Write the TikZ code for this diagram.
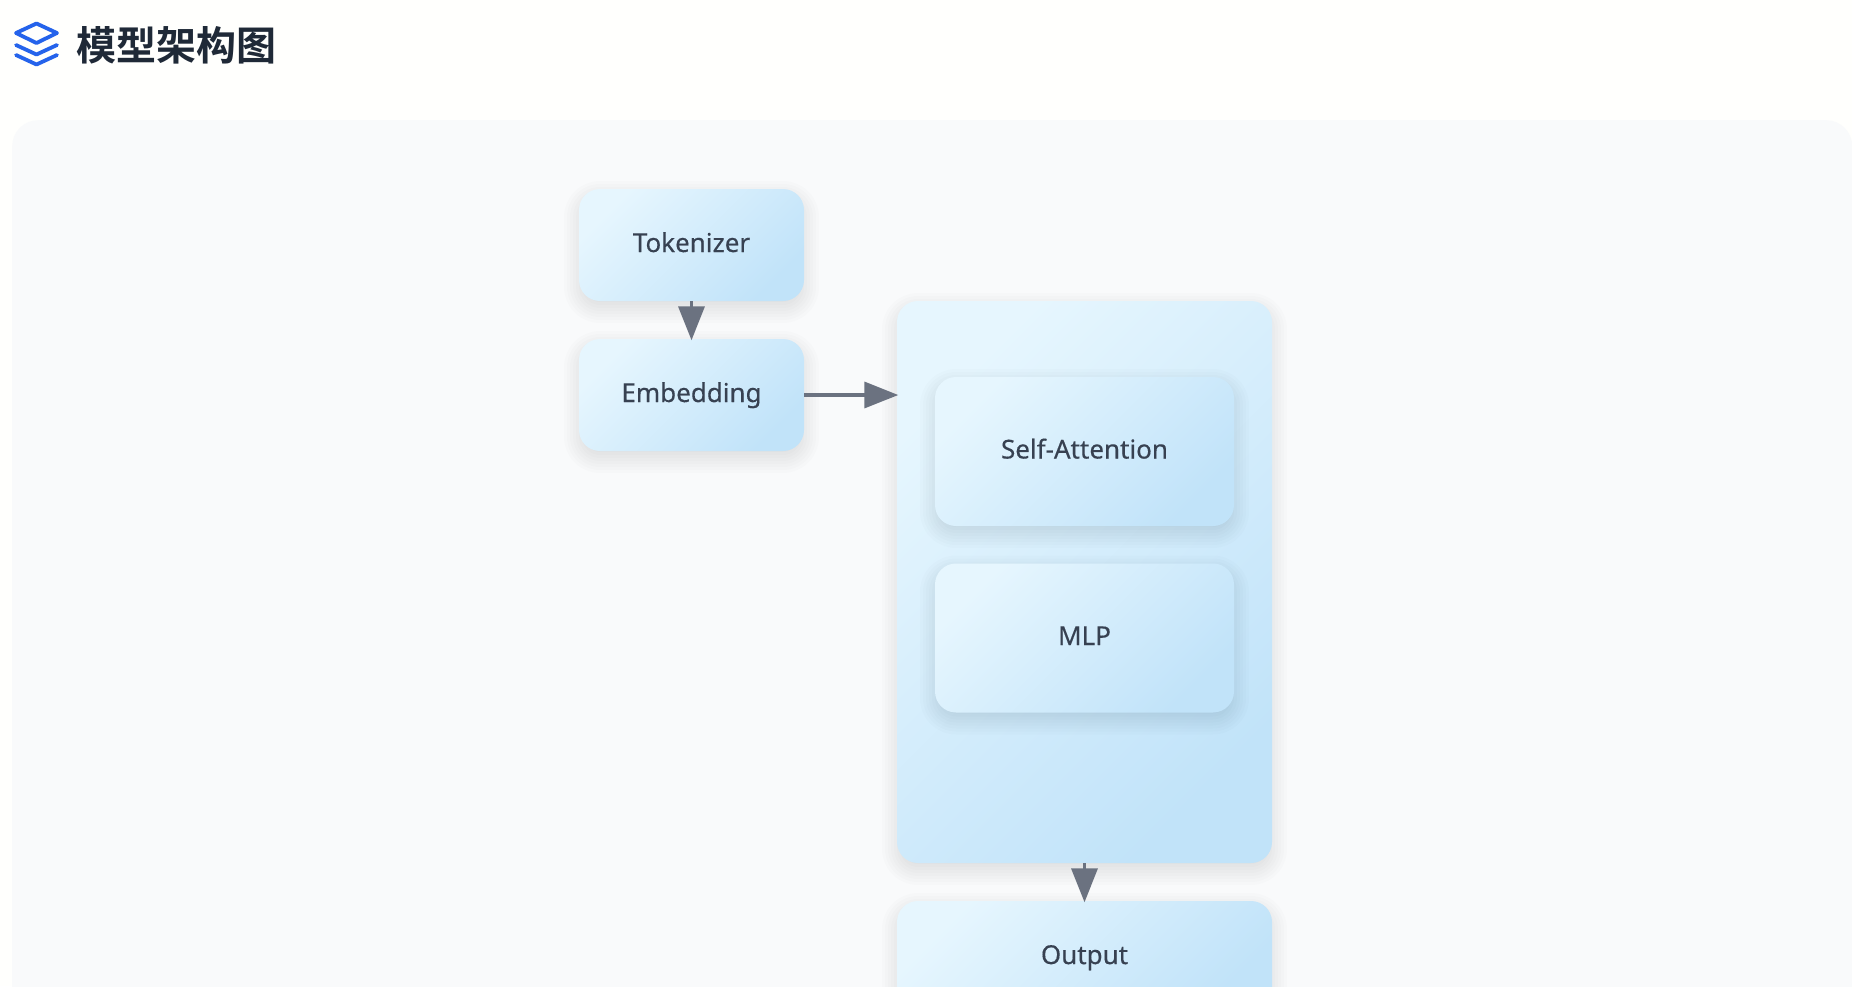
\documentclass[tikz,border=0pt]{standalone}
\usepackage{fontspec}
\setmainfont{Noto Sans}[FakeBold=0.3]
\newfontfamily\cjk{Noto Sans CJK SC}[BoldFont={* Bold}]
\usetikzlibrary{arrows.meta}
\definecolor{pagebg}{HTML}{FFFFFD}
\definecolor{panelbg}{HTML}{F9FAFB}
\definecolor{boxlight}{HTML}{E6F6FE}
\definecolor{boxdark}{HTML}{C1E3F9}
\definecolor{boxtext}{HTML}{374151}
\definecolor{flowline}{HTML}{6B7280}
\definecolor{titletext}{HTML}{1F2937}
\definecolor{iconblue}{HTML}{2563EB}
\tikzset{
    modelbox/.style = {
        rounded corners = 21pt, inner sep = 0pt,
        left color = boxlight, right color = boxdark, shading angle = 45,
        text = boxtext, text height = 20pt, text depth = 6pt, font = \fontsize{26}{30}\selectfont
    },
    smallbox/.style = {modelbox, minimum width = 225pt, minimum height = 112pt},
    innerbox/.style = {modelbox, minimum width = 299pt, minimum height = 149pt},
    widebox/.style = {modelbox, minimum width = 375pt, minimum height = 112pt},
    flow/.style = {draw = flowline, line width = 3.5pt, shorten > = -1.5pt, -{Triangle[length = 34pt, width = 26pt]}}
}
% centre x, centre y, width, height
\newcommand{\softshadow}[4]{
    \foreach \grow in {-6,-3,0,3,6,9,12,15}{
        \fill[black, opacity = 0.011, rounded corners = 21pt + \grow pt]
            (#1 - #3/2 - \grow, #2 - #4/2 - \grow + 7) rectangle (#1 + #3/2 + \grow, #2 + #4/2 + \grow + 7);
    }
}
\begin{document}
\begin{tikzpicture}[x = 1pt, y = -1pt]
    \useasboundingbox (0,0) rectangle (1852,986);
    \clip (0,0) rectangle (1852,986);
    \fill[pagebg] (0,0) rectangle (1852,986);
    \node[fill = panelbg, rounded corners = 26pt, inner sep = 0pt, minimum width = 1840pt, minimum height = 1000pt, anchor = north west] (panel) at (12,120) {};
    % heading
    \begin{scope}[draw = iconblue, line width = 3.8pt, line cap = round, line join = round]
        \draw (36.5,23.5) -- (57,33) -- (36.5,43) -- (16,33) -- cycle;
        \draw (16,45) -- (36.5,54.5) -- (57,45);
        \draw (16,55) -- (36.5,64.5) -- (57,55);
    \end{scope}
    \node[anchor = west, inner sep = 0pt, text = titletext, font = \cjk\bfseries\fontsize{40}{44}\selectfont] (heading) at (76.5,45) {模型架构图};
    % boxes
    \softshadow{691.5}{245}{225}{112}
    \softshadow{691.5}{395}{225}{112}
    \softshadow{1084.5}{957}{375}{112}
    \softshadow{1084.5}{582}{375}{562}
    \node[smallbox] (tokenizer) at (691.5,245) {Tokenizer};
    \node[smallbox] (embedding) at (691.5,395) {Embedding};
    \node[widebox] (output) at (1084.5,957) {Output};
    \node[modelbox, minimum width = 375pt, minimum height = 562pt] (block) at (1084.5,582) {};
    \softshadow{1084.5}{451.5}{299}{149}
    \softshadow{1084.5}{638}{299}{149}
    \node[innerbox] (attention) at (1084.5,451.5) {Self-Attention};
    \node[innerbox] (mlp) at (1084.5,638) {MLP};
    % arrows
    \draw[flow] (tokenizer.south) -- (embedding.north);
    \draw[flow] (embedding.east) -- (embedding.east -| block.west);
    \draw[flow] (block.south) -- (output.north);
\end{tikzpicture}
\end{document}
